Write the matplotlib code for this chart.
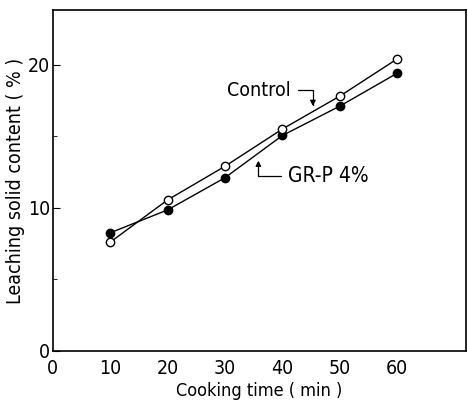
import matplotlib.pyplot as plt
import numpy as np

# cooking time (min) and leaching solid content (%)
cook_time = [10, 20, 30, 40, 50, 60]
control = [7.6, 10.55, 12.9, 15.5, 17.8, 20.4]
grp_4 = [8.25, 9.85, 12.1, 15.05, 17.1, 19.4]

x_ticks = [0, 10, 20, 30, 40, 50, 60]
y_ticks = [0, 10, 20]

plt.rcParams['font.family'] = ['DejaVu Sans']
plt.rcParams['font.stretch'] = 'condensed'

fig = plt.figure(figsize=(4.68, 4.08), dpi=100)
ax = fig.add_axes([0.113, 0.14, 0.883, 0.835])

ax.plot(cook_time, grp_4, color='black', lw=1.0, marker='o', ms=6,
        mfc='black', mec='black', zorder=3)
ax.plot(cook_time, control, color='black', lw=1.0, marker='o', ms=6,
        mfc='white', mec='black', mew=1.0, zorder=4)

ax.set_xlim(0, 72)
ax.set_ylim(0, 23.8)
ax.set_xticks(x_ticks)
ax.set_yticks(y_ticks)
ax.set_yticks([5, 15], minor=True)
ax.tick_params(axis='both', which='major', labelsize=14, direction='in')
ax.tick_params(axis='x', length=0, pad=6)
ax.tick_params(axis='y', length=5, pad=2)
ax.tick_params(axis='y', which='minor', direction='in', length=3)

ax.set_xlabel('Cooking time ( min )', fontsize=13, labelpad=3)
ax.set_ylabel('Leaching solid content ( % )', fontsize=14, labelpad=2)

for sp in ax.spines.values():
    sp.set_linewidth(1.2)

# labels with bent leader arrows
ax.annotate('Control', xy=(45.3, 17.1), xytext=(41.5, 18.2),
            fontsize=14, ha='right', va='center',
            arrowprops=dict(arrowstyle='-|>', color='black', lw=0.9,
                            mutation_scale=8, relpos=(1.0, 0.5),
                            shrinkA=3, shrinkB=0,
                            connectionstyle='angle,angleA=0,angleB=90,rad=0'))
ax.annotate('GR-P 4%', xy=(35.8, 13.3), xytext=(41.0, 12.25),
            fontsize=15, ha='left', va='center',
            arrowprops=dict(arrowstyle='-|>', color='black', lw=0.9,
                            mutation_scale=8, relpos=(0.0, 0.5),
                            shrinkA=3, shrinkB=0,
                            connectionstyle='angle,angleA=180,angleB=90,rad=0'))

fig.savefig('out.png', dpi=100)
